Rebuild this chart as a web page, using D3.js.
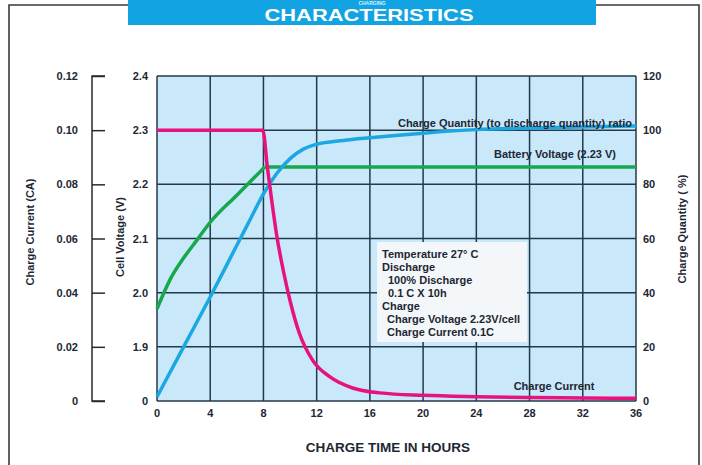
<!DOCTYPE html>
<html>
<head>
<meta charset="utf-8">
<script src="https://cdn.jsdelivr.net/npm/d3@7"></script>
<style>
  body { margin: 0; background: #fff; }
  text { font-family: "Liberation Sans", Arial, sans-serif; font-weight: bold; fill: #1d2733; }
</style>
</head>
<body>
<svg id="chart"></svg>
<script>
// charge characteristics chart
var width = 702, height = 465;

// data
const hourTicks = [0, 4, 8, 12, 16, 20, 24, 28, 32, 36];
const currentTicks = [0, 0.02, 0.04, 0.06, 0.08, 0.10, 0.12];
const currentLabels = ["0", "0.02", "0.04", "0.06", "0.08", "0.10", "0.12"];
const voltTicks = [1.8, 1.9, 2.0, 2.1, 2.2, 2.3, 2.4];
const voltLabels = ["0", "1.9", "2.0", "2.1", "2.2", "2.3", "2.4"];
const pctTicks = [0, 20, 40, 60, 80, 100, 120];

// charge current (CA) vs hours
const currentHours = [0, 7.95, 8.3, 8.65, 9.0, 9.5, 10, 10.7, 11.7, 13, 14.7, 16.75, 20, 24, 28, 32, 36];
const currentVals  = [0.10, 0.10, 0.086, 0.073, 0.061, 0.048, 0.037, 0.025, 0.015, 0.0089, 0.0048, 0.003, 0.0021, 0.0016, 0.0013, 0.0011, 0.001];

// battery voltage (V) vs hours: rising part, then held at 2.23 V
const voltHours = [0, 1, 2, 3, 4, 6, 8.1];
const voltVals  = [1.97, 2.025, 2.064, 2.097, 2.13, 2.18, 2.232];
const voltHoldHours = [8.1, 36];
const voltHoldVals = [2.232, 2.232];

// charge quantity (%) vs hours
const qtyHours = [0, 2, 4, 6, 7, 8, 9, 10, 11, 12, 14, 16, 20, 24, 28, 32, 36];
const qtyVals  = [1.5, 20, 38.4, 57.5, 67, 76.5, 84, 89.5, 93, 94.8, 96.2, 97.2, 98.9, 100.2, 100.8, 101.2, 101.5];

const infoLines = [
  {t: "Temperature 27° C", indent: 0},
  {t: "Discharge", indent: 0},
  {t: "100% Discharge", indent: 6},
  {t: "0.1 C X 10h", indent: 6},
  {t: "Charge", indent: 0},
  {t: "Charge Voltage 2.23V/cell", indent: 5},
  {t: "Charge Current 0.1C", indent: 5}
];

const svg = d3.select("#chart").attr("width", width).attr("height", height);

var plot = {left: 157, right: 636, top: 76, bottom: 401};

const x = d3.scaleLinear().domain([0, 36]).range([plot.left, plot.right]);
const yCur = d3.scaleLinear().domain([0, 0.12]).range([plot.bottom, plot.top]);
const yVolt = d3.scaleLinear().domain([1.8, 2.4]).range([plot.bottom, plot.top]);
const yPct = d3.scaleLinear().domain([0, 120]).range([plot.bottom, plot.top]);

// outer frame
const frame = svg.append("g").attr("fill", "none").attr("stroke", "#3a3a3a").attr("stroke-width", 1.6);
frame.append("path").attr("d", "M9,465 L9,5 L130,5");
frame.append("path").attr("d", "M595,5 L699,5 L699,465");

// title banner
svg.append("rect").attr("x", 128).attr("y", 0).attr("width", 468).attr("height", 25).attr("fill", "#12a3e3");
svg.append("text").attr("x", 372).attr("y", 5).attr("text-anchor", "middle")
  .style("font-size", "5px").style("fill", "#d8f0fb").text("CHARGING");
svg.append("text").attr("x", 369).attr("y", 20.5).attr("text-anchor", "middle")
  .attr("textLength", 209).attr("lengthAdjust", "spacingAndGlyphs")
  .style("font-size", "16.5px").style("fill", "#fff").text("CHARACTERISTICS");

// plot background
svg.append("rect").attr("x", plot.left).attr("y", plot.top)
  .attr("width", plot.right - plot.left).attr("height", plot.bottom - plot.top)
  .attr("fill", "#c9e8f9");

// grid
const grid = svg.append("g").attr("stroke", "#23384a").attr("stroke-width", 1.5);
grid.selectAll(".vg").data(hourTicks).join("line")
  .attr("x1", d => x(d)).attr("x2", d => x(d))
  .attr("y1", plot.top).attr("y2", plot.bottom);
grid.selectAll(".hg").data(voltTicks).join("line")
  .attr("x1", plot.left).attr("x2", plot.right)
  .attr("y1", d => yVolt(d)).attr("y2", d => yVolt(d));

// left charge current axis (bracket style)
const axCur = d3.axisRight(yCur).tickValues(currentTicks).tickSize(13).tickFormat("");
const gCur = svg.append("g").attr("transform", "translate(92,0)").call(axCur);
gCur.selectAll("line, path").attr("stroke", "#2a2a2a").attr("stroke-width", 1.5);
gCur.select(".domain").attr("d", "M13," + plot.top + "H0V" + plot.bottom + "H13");
svg.selectAll(".curLab").data(currentTicks).join("text")
  .attr("x", 78).attr("y", d => yCur(d) + 4).attr("text-anchor", "end")
  .style("font-size", "11px").text((d, i) => currentLabels[i]);

// cell voltage labels
svg.selectAll(".voltLab").data(voltTicks).join("text")
  .attr("x", 148).attr("y", d => yVolt(d) + 4).attr("text-anchor", "end")
  .style("font-size", "11px").text((d, i) => voltLabels[i]);

// right percent labels
svg.selectAll(".pctLab").data(pctTicks).join("text")
  .attr("x", 643).attr("y", d => yPct(d) + 4).attr("text-anchor", "start")
  .style("font-size", "11px").text(d => d);

// hour labels
svg.selectAll(".hLab").data(hourTicks).join("text")
  .attr("x", d => x(d)).attr("y", 417).attr("text-anchor", "middle")
  .style("font-size", "11px").text(d => d);

// axis titles
svg.append("text").attr("transform", "translate(34,232) rotate(-90)").attr("text-anchor", "middle")
  .style("font-size", "11px").text("Charge Current (CA)");
svg.append("text").attr("transform", "translate(124,237) rotate(-90)").attr("text-anchor", "middle")
  .style("font-size", "11px").text("Cell Voltage (V)");
svg.append("text").attr("transform", "translate(686,229) rotate(-90)").attr("text-anchor", "middle")
  .style("font-size", "11px").text("Charge Quantity ( %)");
svg.append("text").attr("x", 388).attr("y", 452).attr("text-anchor", "middle")
  .style("font-size", "13.5px").text("CHARGE TIME IN HOURS");

// curves
const curve = d3.curveMonotoneX;
const lineCur = d3.line().x((d, i) => x(currentHours[i])).y(d => yCur(d)).curve(curve);
const lineVolt = d3.line().x((d, i) => x(voltHours[i])).y(d => yVolt(d)).curve(curve);
const lineHold = d3.line().x((d, i) => x(voltHoldHours[i])).y(d => yVolt(d));
const lineQty = d3.line().x((d, i) => x(qtyHours[i])).y(d => yPct(d)).curve(curve);

svg.append("path").attr("d", lineVolt(voltVals) + lineHold(voltHoldVals)).attr("fill", "none")
  .attr("stroke", "#15a84c").attr("stroke-width", 3.5).attr("stroke-linejoin", "round");
svg.append("path").attr("d", lineQty(qtyVals)).attr("fill", "none")
  .attr("stroke", "#1ba8e2").attr("stroke-width", 3.5);
svg.append("path").attr("d", lineCur(currentVals)).attr("fill", "none")
  .attr("stroke", "#e6137f").attr("stroke-width", 3.5);

// curve labels
svg.append("text").attr("x", 515).attr("y", 127).attr("text-anchor", "middle")
  .style("font-size", "11px").text("Charge Quantity (to discharge quantity) ratio");
svg.append("text").attr("x", 555).attr("y", 158).attr("text-anchor", "middle")
  .style("font-size", "11px").text("Battery Voltage (2.23 V)");
svg.append("text").attr("x", 554).attr("y", 390).attr("text-anchor", "middle")
  .style("font-size", "11px").text("Charge Current");

// info box
svg.append("rect").attr("x", 377).attr("y", 242).attr("width", 150).attr("height", 100)
  .attr("fill", "#f4f7fa");
svg.selectAll(".info").data(infoLines).join("text")
  .attr("x", d => 382 + d.indent).attr("y", (d, i) => 258 + i * 13)
  .style("font-size", "11px").text(d => d.t);
</script>
</body>
</html>
